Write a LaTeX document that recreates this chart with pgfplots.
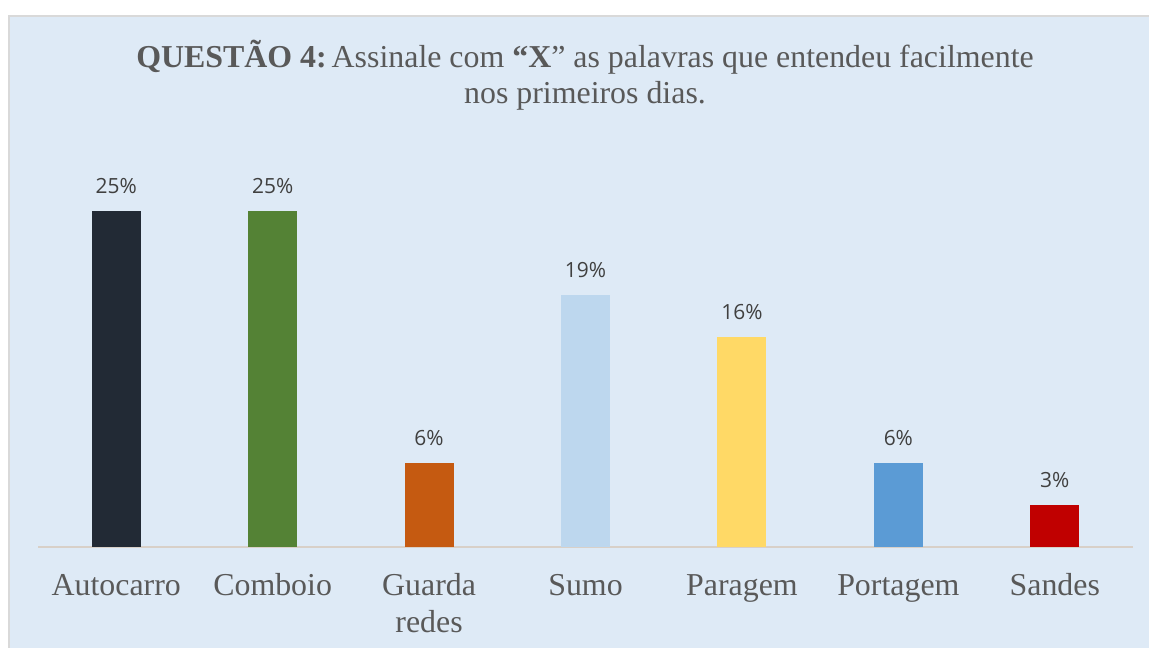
\documentclass[border=0pt]{standalone}
\usepackage{fontspec}
\setmainfont{Liberation Serif}
\newfontfamily\lblfont{Open Sans}
\usepackage{pgfplots}
\pgfplotsset{compat=1.18}
\definecolor{bg}{HTML}{DEEAF6}
\definecolor{txt}{HTML}{595959}
\definecolor{lbl}{HTML}{404040}
\definecolor{axline}{HTML}{D8D0C8}
\definecolor{frame}{HTML}{D9D9D9}
\definecolor{c1}{HTML}{222A35}
\definecolor{c2}{HTML}{548235}
\definecolor{c3}{HTML}{C55A11}
\definecolor{c4}{HTML}{BDD7EE}
\definecolor{c5}{HTML}{FFD966}
\definecolor{c6}{HTML}{5B9BD5}
\definecolor{c7}{HTML}{C00000}
\begin{document}
\begin{tikzpicture}
\useasboundingbox (0bp,0bp) rectangle (1149bp,-648bp);
\fill[white] (0bp,0bp) rectangle (1149bp,-648bp);
\fill[bg] (9bp,-16bp) rectangle (1149bp,-648bp);
\draw[frame, line width=2bp] (9bp,-648bp) -- (9bp,-16bp) -- (1149bp,-16bp);
\node[text=txt, font=\fontsize{32}{36}\selectfont, anchor=base, inner sep=0pt] at (585bp,-67bp)
  {\textbf{QUESTÃO 4:}\hspace{5bp}Assinale com \textbf{“X}” as palavras que entendeu facilmente};
\node[text=txt, font=\fontsize{32}{36}\selectfont, anchor=base, inner sep=0pt] at (585bp,-103bp)
  {nos primeiros dias.};
\begin{axis}[
  at={(38bp,-547bp)}, anchor=south west,
  scale only axis, width=1095bp, height=403bp,
  xmin=-0.5, xmax=6.5, ymin=0, ymax=30,
  ybar, bar width=49bp, bar shift=0pt,
  axis x line=bottom, axis y line=none,
  x axis line style={-, draw=axline, line width=1.2bp},
  xtick={0,...,6},
  xticklabels={\strut Autocarro, \strut Comboio, {\strut Guarda\\redes}, \strut Sumo, \strut Paragem, \strut Portagem, \strut Sandes},
  xticklabel style={font=\fontsize{32}{37}\selectfont, text=txt, align=center, yshift=-19bp},
  major tick length=0pt, ytick=\empty,
  point meta=explicit symbolic,
  nodes near coords={\pgfplotspointmeta\%},
  nodes near coords style={font=\lblfont\fontsize{21}{24}\selectfont, text=lbl, anchor=base, yshift=18bp},
  every axis plot/.append style={draw=none},
]
\addplot[fill=c1] coordinates {(0,25) [25]};
\addplot[fill=c2] coordinates {(1,25) [25]};
\addplot[fill=c3] coordinates {(2,6.25) [6]};
\addplot[fill=c4] coordinates {(3,18.75) [19]};
\addplot[fill=c5] coordinates {(4,15.625) [16]};
\addplot[fill=c6] coordinates {(5,6.25) [6]};
\addplot[fill=c7] coordinates {(6,3.125) [3]};
\end{axis}
\end{tikzpicture}
\end{document}
